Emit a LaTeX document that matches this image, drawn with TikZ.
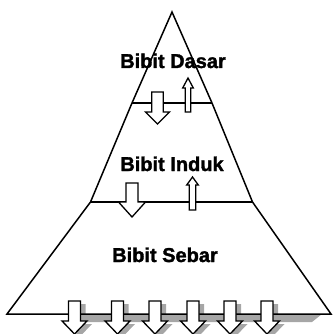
\documentclass[tikz,border=0pt]{standalone}
\usepackage{fontspec}
\setmainfont{Liberation Sans}
\newfontfamily\heavyfont[FakeBold=1.6]{Liberation Sans Bold}
\begin{document}
\begin{tikzpicture}[x=1pt,y=-1pt,
  outline/.style={draw=black,line width=1.5pt,line join=miter},
  blockarrow/.style={draw=black,fill=white,line width=1.3pt,line join=miter},
  shade/.style={fill=black!35,draw=none},
  label/.style={font=\heavyfont\fontsize{20}{20}\selectfont,inner sep=0pt,anchor=base}]
\useasboundingbox (0,0) rectangle (332,334);
% corners
\coordinate (A) at (172,12);
\coordinate (L1) at (132,103);
\coordinate (R1) at (212,103);
\coordinate (L2) at (90.5,202);
\coordinate (R2) at (252.5,202);
\coordinate (BL) at (7,314);
\coordinate (BR) at (331,314);
% shadow under base
\fill[shade] (80,314) -- (322,314) -- (312,322) -- (80,322) -- cycle;
\foreach \cx in {74.5,117.5,155,193,230,267}{
  \fill[shade,xshift=5pt,yshift=-3pt] (\cx-6,301) -- (\cx+6,301) -- (\cx+6,321) -- (\cx+12.5,321)
     -- (\cx,334) -- (\cx-12.5,321) -- (\cx-6,321) -- cycle;
}
% pyramid
\draw[outline] (A) -- (L1) -- (L2) -- (BL) -- (BR) -- (R2) -- (R1) -- cycle;
\draw[outline] (L1) -- (R1);
\draw[outline] (L2) -- (R2);
% labels
\node[label] (dasar) at (173,68) {Bibit Dasar};
\node[label] (induk) at (172,171) {Bibit Induk};
\node[label] (sebar) at (165,262) {Bibit Sebar};
% top arrows
\def\cx{157.5}
\draw[blockarrow] (\cx-5.8,92) -- (\cx+5.8,92) -- (\cx+5.8,112) -- (\cx+12,112) -- (\cx,124)
   -- (\cx-12,112) -- (\cx-5.8,112) -- cycle;
\def\cx{188}
\draw[blockarrow] (\cx-2.8,112) -- (\cx+2.8,112) -- (\cx+2.8,88) -- (\cx+5.3,88) -- (\cx,78)
   -- (\cx-5.3,88) -- (\cx-2.8,88) -- cycle;
% middle arrows
\def\cx{132}
\draw[blockarrow] (\cx-6,183) -- (\cx+6,183) -- (\cx+6,202) -- (\cx+13.5,202) -- (\cx,217)
   -- (\cx-13.5,202) -- (\cx-6,202) -- cycle;
\def\cx{192.5}
\draw[blockarrow] (\cx-3.3,210) -- (\cx+3.3,210) -- (\cx+3.3,185) -- (\cx+5.8,185) -- (\cx,177)
   -- (\cx-5.8,185) -- (\cx-3.3,185) -- cycle;
% bottom arrows
\foreach \cx in {74.5,117.5,155,193,230,267}{
  \draw[blockarrow] (\cx-6,301) -- (\cx+6,301) -- (\cx+6,321) -- (\cx+12.5,321)
     -- (\cx,334) -- (\cx-12.5,321) -- (\cx-6,321) -- cycle;
}
\end{tikzpicture}
\end{document}
